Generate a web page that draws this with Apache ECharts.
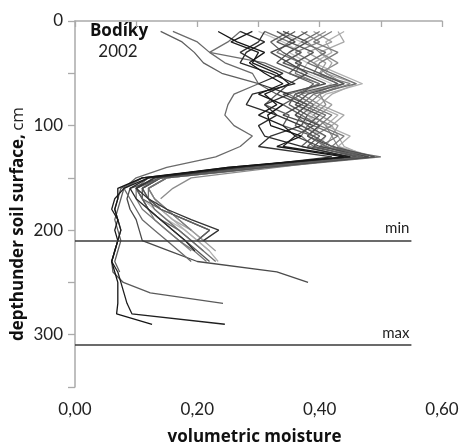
<!DOCTYPE html>
<html><head><meta charset="utf-8">
<script src="https://cdn.jsdelivr.net/npm/echarts@6/dist/echarts.min.js"></script>
<style>html,body{margin:0;padding:0;background:#fff}#c{width:464px;height:442px}</style>
</head><body><div id="c"></div>
<script>
// depths (cm) at which each profile was measured
const depths = [10,20,30,40,50,60,70,80,90,100,110,120,130,140,150,160,170,180,190,200,210,220,230,240,250,260,270,280,290];

// volumetric moisture profiles (one value per depth, from 10 cm down)
const b1 = [0.234,0.265,0.31,0.285,0.31,0.34,0.30,0.34,0.315,0.32,0.37,0.33,0.44, 0.25,0.11,0.07,0.07,0.065,0.07,0.065,0.07,0.065,0.06,0.065,0.07,0.07,0.07,0.068,0.126];
const b2 = [0.29,0.255,0.30,0.29,0.33,0.35,0.31,0.33,0.30,0.34,0.36,0.34,0.45, 0.26,0.12,0.08,0.065,0.06,0.07,0.075,0.07,0.065,0.06,0.07,0.075,0.08,0.085,0.093,0.245];
const b3 = [0.31,0.30,0.27,0.30,0.34,0.30,0.35,0.31,0.33,0.37,0.32,0.30,0.42, 0.27,0.13,0.10,0.12,0.15,0.19,0.235,0.21];
const b4 = [0.27,0.31,0.28,0.27,0.32,0.36,0.29,0.28,0.33,0.30,0.31,0.37,0.45, 0.25,0.12,0.09,0.10,0.12,0.14,0.16,0.18,0.196];
const g1 = [0.33,0.36,0.32,0.35,0.38,0.35,0.33,0.37,0.34,0.39,0.36,0.40,0.48, 0.30,0.14,0.09,0.085,0.09,0.10,0.105,0.11,0.155,0.20,0.33,0.381];
const g2 = [0.36,0.33,0.37,0.34,0.39,0.43,0.36,0.35,0.38,0.37,0.40,0.38,0.47, 0.27,0.11,0.075,0.07,0.065,0.07,0.075,0.07,0.065,0.06,0.062,0.079,0.123,0.242];
const g3 = [0.34,0.38,0.35,0.33,0.37,0.41,0.34,0.38,0.36,0.40,0.38,0.42,0.49, 0.31,0.14,0.11,0.12,0.14,0.18,0.22,0.20];
const g4 = [0.38,0.35,0.39,0.36,0.40,0.44,0.38,0.36,0.40,0.38,0.41,0.39,0.46, 0.29,0.14,0.11,0.11,0.12,0.14,0.16,0.18,0.20,0.22];
const g5 = [0.35,0.32,0.34,0.37,0.35,0.39,0.37,0.34,0.37,0.36,0.39,0.37,0.45, 0.26,0.11,0.08,0.075,0.07,0.065,0.07,0.075,0.07,0.065,0.073];
const m1 = [0.40,0.37,0.41,0.38,0.42,0.46,0.39,0.37,0.41,0.39,0.43,0.40,0.50, 0.32,0.15,0.12,0.12,0.13,0.15,0.17,0.19,0.21];
const m2 = [0.37,0.40,0.36,0.39,0.41,0.44,0.37,0.40,0.38,0.42,0.39,0.41,0.47, 0.28,0.13,0.10,0.11,0.12,0.13,0.15,0.17,0.19];
const m3 = [0.42,0.39,0.43,0.40,0.39,0.45,0.40,0.38,0.42,0.40,0.44,0.42,0.48, 0.31,0.15,0.12,0.13,0.15,0.17,0.19];
const m4 = [0.31,0.35,0.33,0.37,0.36,0.40,0.35,0.38,0.36,0.38,0.37,0.39,0.46, 0.27,0.12,0.10,0.10,0.11,0.13,0.15,0.17,0.195,0.215];
const m5 = [0.41,0.38,0.40,0.43,0.40,0.44,0.40,0.41,0.39,0.41,0.42,0.43,0.47, 0.33,0.19,0.16,0.14];
const l1 = [0.44,0.41,0.42,0.39,0.43,0.47,0.41,0.39,0.43,0.41,0.45,0.43,0.49, 0.31,0.15,0.12,0.13,0.14,0.16,0.18,0.20,0.22,0.234];
const l2 = [0.43,0.44,0.40,0.42,0.41,0.46,0.42,0.40,0.44,0.42,0.43,0.44,0.48, 0.30,0.14,0.11,0.12,0.14,0.16,0.19,0.21];
const l3 = [0.30,0.34,0.37,0.34,0.38,0.42,0.38,0.36,0.39,0.37,0.41,0.40,0.47, 0.28,0.13,0.11,0.12,0.13,0.15,0.17];
const l4 = [0.39,0.42,0.38,0.41,0.40,0.43,0.39,0.42,0.40,0.43,0.42,0.41,0.46, 0.31,0.15,0.12,0.13,0.15,0.17,0.19,0.21,0.23];
const l5 = [0.33,0.37,0.35,0.38,0.37,0.41,0.36,0.39,0.38,0.40,0.39,0.42,0.46, 0.29,0.13,0.10,0.11,0.13,0.15,0.18,0.20,0.22];
const oA = [0.14,0.175,0.195,0.21,0.24,0.30,0.33,0.31,0.35,0.34,0.39,0.42,0.47, 0.30,0.14,0.10,0.11,0.14,0.18,0.22,0.20];
const oB = [0.16,0.20,0.22,0.245,0.29,0.30,0.26,0.25,0.245,0.26,0.29,0.27,0.23, 0.15,0.10,0.08,0.09,0.10,0.11,0.13,0.15,0.17,0.19];
const oC = [0.27,0.25,0.22,0.31,0.35,0.40,0.36,0.39,0.37,0.40,0.38,0.41,0.46, 0.29,0.13,0.10,0.11,0.12,0.14,0.17,0.19,0.21,0.23];

const profiles = [l3,l5,l1,l2,l4,m5,m2,m3,m4,m1,oC,g5,g4,g3,g2,g1,oA,oB,b4,b3,b2,b1];
const profileColors = ['#c4c4c4','#bdbdbd','#b0b0b0','#a8a8a8','#9e9e9e','#8c8c8c','#858585','#7d7d7d','#777777','#707070','#6e6e6e','#5e5e5e','#575757','#505050','#5a5a5a','#4a4a4a','#5f5f5f','#6a6a6a','#2a2a2a','#333333','#1e1e1e','#151515'];

// limit lines
const refDepths = [210, 310];
const refLabels = ['min', 'max'];
const refXEnd = 0.55;

const chart = echarts.init(document.getElementById('c'));
const FONT = 'Lato';
const BFONT = 'Open Sans';

const series = profiles.map((xs, i) => ({
  type: 'line',
  data: xs.map((x, k) => [x, depths[k]]),
  showSymbol: false,
  symbol: 'none',
  silent: true,
  lineStyle: { color: profileColors[i], width: 1.3 },
  z: 2
}));
series.push({
  type: 'line', data: [], silent: true, symbol: 'none',
  markLine: {
    silent: true, symbol: 'none',
    lineStyle: { color: '#3a3a3a', width: 1.5, type: 'solid' },
    label: { show: true, position: 'insideEndTop', fontFamily: FONT, fontSize: 15, color: '#222', distance: [2, 5] },
    data: refDepths.map((d, i) => [
      { coord: [0, d], name: refLabels[i], label: { formatter: refLabels[i] } },
      { coord: [refXEnd, d] }
    ])
  }
});

chart.setOption({
  animation: false,
  backgroundColor: '#fff',
  grid: { left: 75, top: 21, right: 22, bottom: 55, containLabel: false, outerBoundsMode: 'none' },
  graphic: [
    { type: 'text', x: 119, y: 31, style: { text: 'Bodíky', fontFamily: BFONT, fontWeight: 'bold', fontSize: 17, fill: '#111', textAlign: 'center', textVerticalAlign: 'middle' } },
    { type: 'text', x: 118, y: 52, style: { text: '2002', fontFamily: FONT, fontSize: 17, fill: '#222', textAlign: 'center', textVerticalAlign: 'middle' } },
    { type: 'text', x: 18, y: 224, rotation: Math.PI / 2,
      style: {
        text: '{b|depthunder soil surface,} {n|cm}', textAlign: 'center', textVerticalAlign: 'middle',
        rich: {
          b: { fontFamily: BFONT, fontWeight: 'bold', fontSize: 17, fill: '#111', color: '#111' },
          n: { fontFamily: BFONT, fontSize: 17, fill: '#222', color: '#222' }
        }
      } }
  ],
  xAxis: {
    type: 'value', min: 0, max: 0.6, interval: 0.1,
    axisLine: { lineStyle: { color: '#aaa', width: 1.5 } },
    axisTick: { length: 6, lineStyle: { color: '#aaa', width: 1.3 } },
    splitLine: { show: false },
    axisLabel: {
      fontFamily: FONT, fontSize: 17, color: '#222', margin: 14,
      formatter: v => (Math.round(v * 10) % 2 === 0) ? v.toFixed(2).replace('.', ',') : ''
    },
    name: 'volumetric moisture', nameLocation: 'middle', nameGap: 42,
    nameTextStyle: { fontFamily: BFONT, fontWeight: 'bold', fontSize: 17, color: '#111', padding: [0, 8, 0, 0] }
  },
  yAxis: {
    type: 'value', inverse: true, min: 0, max: 350, interval: 50,
    axisLine: { lineStyle: { color: '#aaa', width: 1.5 } },
    axisTick: { length: 7, lineStyle: { color: '#aaa', width: 1.3 } },
    splitLine: { show: false },
    axisLabel: {
      fontFamily: FONT, fontSize: 17, color: '#222', margin: 12,
      formatter: v => (v % 100 === 0) ? String(v) : ''
    }
  },
  series
});
</script></body></html>
